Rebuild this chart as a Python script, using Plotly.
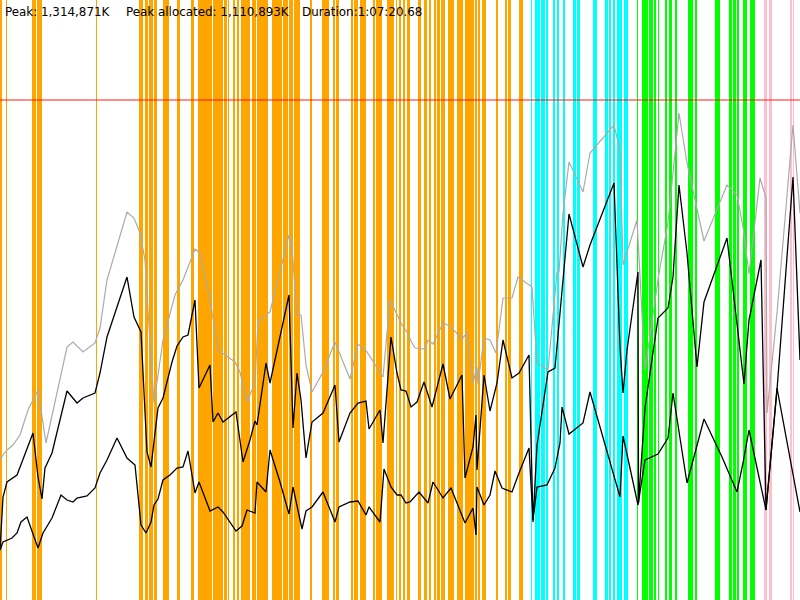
import plotly.graph_objects as go

# memory timeline, x = time ticks, y = memory (arbitrary scale, 600 = top)
HEADER = ['Peak: 1,314,871K', 'Peak allocated: 1,110,893K', 'Duration:1:07:20.68']
HEADER_X = [3, 124, 300]
PEAK_LEVEL = 500

# phase stripes (start, end) in time ticks
orange_spans = [
    (0, 2), (6, 7), (32, 36), (36.5, 42), (96, 97), (139, 143), (145, 148),
    (149, 153), (154, 157), (163, 169), (177, 180), (191, 194), (198, 212),
    (213, 223), (224, 227), (228, 229), (233, 235), (237, 239), (241, 250),
    (252, 256), (257, 268), (272, 282), (282.5, 286), (286.5, 288),
    (288.5, 293), (293.5, 300), (310, 312), (322, 329), (333, 335), (336, 339),
    (351, 353), (354, 358), (360, 366), (373, 375), (375.5, 382), (387, 394),
    (396, 397), (399, 401), (403, 405), (407, 410), (418, 421), (424, 427),
    (429, 431), (434, 436), (437, 440), (441, 445), (448, 454), (457, 463),
    (465, 474), (474.5, 477), (478, 480), (482, 486), (496, 498), (505, 507),
    (508, 511), (519, 523),
]
cyan_spans = [
    (531, 532), (535, 540), (541, 545), (546, 548), (553, 555), (557, 559),
    (563, 565), (573, 576), (577, 580), (593, 597), (605, 608), (609, 611),
    (613, 615), (617, 620), (620.5, 622), (624, 628),
]
green_spans = [
    (637, 638), (642, 648), (649, 653), (653.5, 656), (658, 659), (665, 667),
    (669, 672), (675, 677), (688, 693), (695, 697), (715, 720), (729, 732),
    (733, 736), (737, 739), (743, 747), (750, 755),
]
pink_spans = [(764, 767), (769, 772), (790, 792), (793, 794)]

# total (grey)
total_t = [0, 3, 7, 13, 20, 28, 38, 46, 67, 73, 83, 95, 100, 107, 127, 134,
           140, 145, 148, 152, 154, 163, 175, 183, 195, 200, 210, 218, 235, 240,
           247, 255, 258, 270, 289, 292, 297, 301, 306, 312, 323, 335, 350, 358,
           367, 383, 390, 402, 407, 412, 415, 425, 428, 433, 443, 450, 462, 467,
           473, 477, 478, 484, 490, 496, 503, 512, 518, 532, 537, 548, 557, 559,
           563, 569, 583, 590, 614, 620, 623, 637, 645, 659, 668, 679, 687, 704,
           727, 737, 743, 749, 760, 766, 767, 777, 793, 800]
total_m = [140, 145, 150, 155, 165, 190, 210, 157, 253, 258, 248, 257, 272, 320,
           388, 382, 367, 340, 290, 220, 197, 260, 305, 320, 351, 347, 300, 250,
           238, 228, 198, 217, 278, 288, 365, 353, 285, 285, 235, 208, 228, 258,
           221, 256, 248, 223, 300, 275, 268, 257, 252, 251, 260, 256, 277, 274,
           261, 267, 217, 233, 216, 262, 260, 247, 302, 302, 323, 313, 237, 230,
           328, 328, 387, 438, 408, 447, 475, 450, 335, 380, 230, 327, 377, 487,
           437, 359, 415, 405, 373, 326, 422, 402, 187, 287, 475, 387]

# allocated (upper black)
alloc_t = [0, 3, 7, 17, 22, 33, 38, 42, 45, 52, 67, 77, 83, 95, 100, 107, 127,
           134, 141, 147, 151, 158, 163, 172, 177, 183, 188, 195, 199, 210, 213,
           218, 223, 236, 243, 250, 255, 257, 266, 270, 289, 293, 297, 301, 306,
           312, 323, 335, 339, 350, 358, 366, 369, 380, 383, 391, 397, 401, 406,
           411, 417, 424, 432, 443, 450, 462, 465, 473, 476, 477, 484, 490, 497,
           503, 512, 519, 529, 533, 537, 548, 555, 562, 569, 583, 590, 614, 620,
           623, 627, 638, 638.5, 645, 658, 668, 673, 679, 687, 697, 704, 727, 744,
           749, 761, 766, 777, 793, 800]
alloc_m = [50, 103, 118, 125, 138, 167, 123, 101, 132, 147, 209, 197, 202, 207,
           227, 263, 323, 283, 268, 148, 133, 192, 202, 238, 254, 263, 265, 300,
           212, 235, 178, 187, 178, 188, 138, 160, 179, 175, 237, 217, 305, 172,
           227, 200, 142, 178, 187, 215, 158, 187, 197, 199, 171, 190, 157, 263,
           227, 210, 209, 193, 198, 218, 193, 236, 201, 225, 122, 153, 185, 130,
           225, 189, 217, 260, 222, 227, 245, 78, 155, 228, 232, 307, 386, 333,
           355, 417, 253, 207, 250, 328, 97, 192, 282, 292, 323, 415, 347, 233,
           298, 362, 216, 280, 340, 90, 210, 423, 240]

# in use (lower black)
used_t = [0, 3, 12, 17, 21, 27, 38, 43, 52, 61, 67, 73, 77, 87, 95, 100, 107,
          117, 127, 135, 141, 146, 151, 154, 158, 163, 170, 177, 183, 188, 195,
          199, 210, 218, 223, 236, 242, 247, 255, 257, 266, 270, 280, 289, 293,
          302, 306, 312, 323, 335, 339, 350, 358, 366, 369, 380, 384, 391, 397,
          401, 406, 410, 419, 428, 433, 443, 451, 460, 465, 473, 476, 477, 484,
          490, 495, 502, 512, 519, 529, 533, 537, 547, 555, 560, 562, 569, 583,
          590, 620, 623, 638, 645, 658, 668, 673, 687, 704, 722, 737, 743, 749,
          766, 777, 800]
used_m = [50, 58, 62, 67, 78, 83, 52, 67, 82, 105, 100, 98, 102, 104, 112, 127,
          140, 162, 142, 135, 75, 67, 78, 95, 101, 120, 125, 132, 133, 149, 107,
          118, 89, 93, 88, 69, 74, 90, 87, 118, 108, 150, 118, 86, 113, 71, 89,
          93, 108, 78, 93, 98, 99, 85, 93, 78, 131, 113, 105, 105, 97, 98, 108,
          97, 118, 102, 112, 90, 77, 92, 65, 113, 95, 105, 129, 112, 108, 127,
          152, 80, 113, 115, 132, 157, 193, 166, 177, 208, 103, 164, 95, 140,
          146, 162, 207, 117, 181, 143, 108, 137, 170, 90, 212, 88]


def stripe_bars(spans, color):
    return go.Bar(
        x=[(a + b) / 2 for a, b in spans],
        width=[b - a for a, b in spans],
        y=[600] * len(spans),
        marker=dict(color=color, line=dict(width=0)),
        hoverinfo='skip',
        showlegend=False,
    )


fig = go.Figure()
fig.add_trace(stripe_bars(orange_spans, '#FFA500'))
fig.add_trace(stripe_bars(cyan_spans, '#00FFFF'))
fig.add_trace(stripe_bars(green_spans, '#00FF00'))
fig.add_trace(stripe_bars(pink_spans, '#FFC0CB'))

fig.add_trace(go.Scatter(x=total_t, y=total_m, mode='lines',
                         line=dict(color='#AAAAAA', width=1.2), showlegend=False))
fig.add_trace(go.Scatter(x=alloc_t, y=alloc_m, mode='lines',
                         line=dict(color='black', width=1.3), showlegend=False))
fig.add_trace(go.Scatter(x=used_t, y=used_m, mode='lines',
                         line=dict(color='black', width=1.3), showlegend=False))

fig.add_hline(y=PEAK_LEVEL, line=dict(color='rgba(255,0,0,0.6)', width=1.5))

# header texts, one per field
for text, xpos in zip(HEADER, HEADER_X):
    fig.add_annotation(
        text=text, x=xpos, y=1, xref='x', yref='paper',
        xanchor='left', yanchor='top', yshift=-3, showarrow=False,
        font=dict(family='DejaVu Sans', size=11.9, color='black'),
    )

fig.update_layout(
    width=800, height=600,
    margin=dict(l=0, r=0, t=0, b=0),
    paper_bgcolor='white', plot_bgcolor='white',
    barmode='overlay', bargap=0,
    xaxis=dict(range=[0, 800], visible=False, fixedrange=True),
    yaxis=dict(range=[0, 600], visible=False, fixedrange=True),
)

# drop the default page margin so the figure sits at the window corner
fig.write_html('out.html', post_script="document.body.style.margin='0';",
               config={'displayModeBar': False})
